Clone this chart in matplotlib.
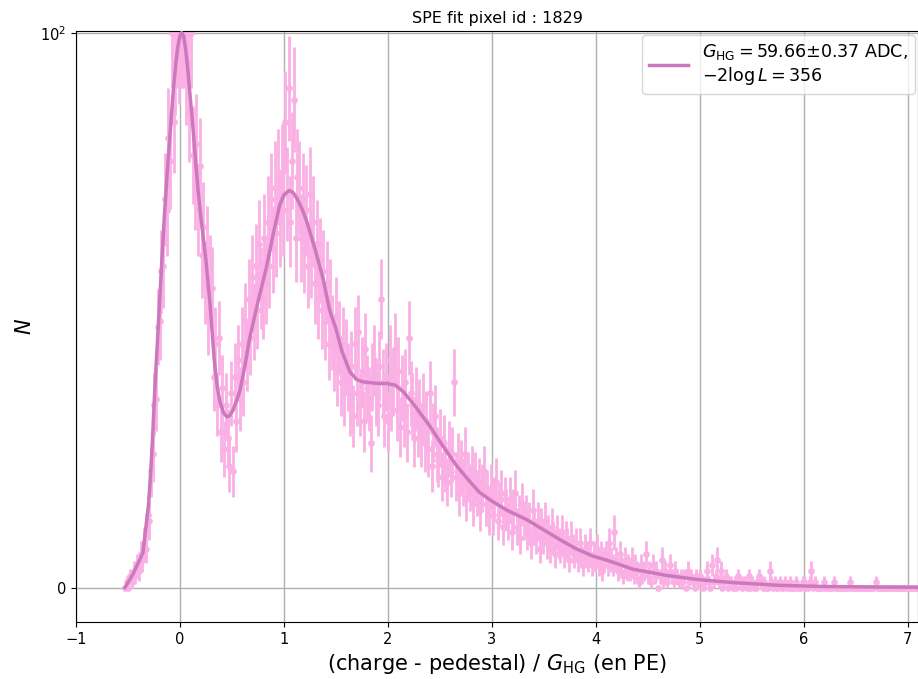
import numpy as np
import matplotlib.pyplot as plt

# histogram (1 ADC bins), bin centres in PE
bin_start = -0.53
bin_width = 1 / 59.66
counts = [
    0, 1, 0, 2, 1, 3, 2, 4, 3, 6,
    5, 8, 7, 13, 12, 21, 24, 33, 34, 47,
    48, 57, 58, 70, 68, 81, 77, 100, 84, 95,
    100, 97, 100, 100, 100, 93, 100, 86, 100, 78,
    73, 80, 68, 76, 60, 65, 55, 61, 49, 56,
    54, 38, 44, 33, 45, 28, 36, 25, 33, 27,
    22, 35, 21, 38, 30, 41, 34, 44, 37, 48,
    42, 52, 45, 56, 48, 58, 50, 62, 54, 52,
    63, 55, 66, 58, 70, 61, 72, 64, 74, 66,
    75, 68, 84, 71, 90, 66, 77, 88, 63, 74,
    72, 63, 70, 61, 68, 58, 71, 60, 66, 55,
    62, 52, 59, 50, 57, 48, 55, 44, 52, 46,
    42, 49, 39, 45, 37, 44, 35, 42, 38, 33,
    40, 31, 44, 35, 46, 33, 39, 30, 43, 36,
    34, 26, 38, 41, 35, 33, 40, 52, 37, 31,
    38, 30, 41, 34, 37, 43, 32, 39, 29, 36,
    31, 37, 28, 45, 35, 33, 27, 34, 29, 32,
    27, 33, 26, 30, 25, 35, 22, 28, 31, 24,
    23, 27, 20, 26, 22, 19, 25, 21, 24, 37,
    20, 23, 17, 22, 19, 24, 16, 20, 18, 21,
    15, 20, 17, 19, 14, 18, 21, 15, 17, 13,
    18, 13, 16, 19, 12, 15, 17, 11, 16, 14,
    12, 16, 10, 14, 17, 11, 13, 9, 15, 12,
    13, 10, 12, 8, 14, 11, 9, 12, 7, 11,
    9, 12, 8, 10, 7, 11, 9, 6, 10, 8,
    7, 10, 6, 9, 8, 5, 9, 7, 6, 8,
    5, 8, 6, 4, 7, 6, 5, 8, 4, 6,
    5, 7, 4, 6, 3, 5, 6, 4, 8, 5,
    4, 10, 5, 3, 6, 4, 2, 5, 3, 4,
    3, 5, 2, 4, 3, 1, 4, 2, 3, 6,
    2, 3, 1, 4, 2, 3, 0, 2, 5, 1,
    3, 1, 2, 4, 2, 1, 3, 2, 1, 2,
    1, 2, 0, 3, 1, 2, 1, 0, 2, 1,
    2, 1, 0, 1, 3, 1, 0, 4, 1, 2,
    5, 1, 3, 0, 1, 2, 0, 1, 1, 0,
    1, 0, 2, 1, 0, 1, 1, 0, 2, 0,
    1, 0, 0, 1, 2, 1, 0, 1, 0, 0,
    3, 1, 0, 1, 0, 0, 1, 0, 0, 1,
    0, 0, 1, 0, 0, 1, 0, 0, 0, 1,
    1, 0, 0, 1, 3, 0, 1, 0, 0, 0,
    0, 1, 0, 0, 0, 0, 0, 1, 0, 0,
    0, 0, 0, 0, 0, 0, 1, 0, 0, 0,
    0, 0, 0, 0, 0, 0, 0, 0, 0, 0,
    0, 1, 0, 0, 0, 0, 0, 0, 0, 0,
    0, 0, 0, 0, 0, 0, 0, 0, 0, 0,
    0, 0, 0, 0, 0, 0, 0, 0,
]

# fitted SPE model
fit_x = [-0.53, -0.49, -0.45, -0.40, -0.356, -0.30, -0.27, -0.24, -0.21, -0.18,
         -0.15, -0.12, -0.10, -0.067, -0.04, -0.02, 0.0, 0.016, 0.035, 0.055,
         0.075, 0.096, 0.12, 0.15, 0.175, 0.2, 0.25, 0.29, 0.33, 0.36,
         0.385, 0.42, 0.45, 0.48, 0.51, 0.55, 0.577, 0.62, 0.67, 0.75,
         0.83, 0.9, 0.96, 1.0, 1.05, 1.09, 1.13, 1.18, 1.22, 1.3,
         1.375, 1.44, 1.5, 1.56, 1.635, 1.7, 1.76, 1.85, 1.92, 1.99,
         2.07, 2.15, 2.25, 2.4, 2.53, 2.66, 2.78, 2.88, 3.0, 3.15,
         3.33, 3.5, 3.65, 3.8, 3.97, 4.13, 4.36, 4.68, 4.98, 5.32,
         5.77, 6.2, 6.7, 7.2]
fit_y = [0.0, 1.2, 2.5, 4.5, 6.3, 15.4, 24.5, 36.5, 46.7, 57.0,
         67.0, 75.5, 80.5, 89.0, 94.5, 97.5, 99.5, 100.2, 99.5, 97.0,
         93.5, 89.0, 84.0, 77.0, 71.5, 67.0, 59.0, 51.0, 41.0, 36.0,
         33.5, 31.5, 30.8, 31.0, 32.0, 34.0, 35.5, 39.5, 44.9, 51.5,
         57.6, 64.0, 69.0, 70.8, 71.6, 71.2, 70.0, 68.0, 66.0, 61.0,
         55.8, 50.0, 46.7, 42.5, 38.9, 37.5, 37.1, 36.9, 36.8, 36.8,
         36.5, 35.3, 33.0, 29.2, 25.5, 22.0, 19.3, 17.2, 15.6, 13.9,
         12.3, 10.4, 8.7, 7.1, 5.7, 4.8, 3.3, 2.2, 1.45, 0.9,
         0.4, 0.2, 0.1, 0.05]

gain = '59.66'
gain_err = '0.37'
likelihood = '356'
pixel_id = 1829

counts = np.array(counts, dtype=float)
bins_x = bin_start + bin_width * np.arange(len(counts))
yerr = np.sqrt(counts)

fig = plt.figure(figsize=(9.18, 6.79), dpi=100)
ax = fig.add_axes([0.0828, 0.084, 0.9172, 0.8703])

ax.errorbar(bins_x, counts, yerr=yerr, fmt='o', color='#fab0e4', ms=3.8,
            elinewidth=2.0, capsize=0, zorder=2)
label = (r'$G_{\mathrm{HG}} = %s{\pm}%s$ ADC,' % (gain, gain_err) + '\n'
         + r'$-2\log L = %s$' % likelihood)
ax.plot(fit_x, fit_y, color='#cc78bc', lw=2.5, label=label, zorder=3)

ax.set_yscale('symlog', linthresh=100)
ax.set_ylim(-6.2, 100.9)
ax.set_xlim(-1, 7.1)
ax.set_xticks(range(-1, 8))
ax.grid(True, color='#b0b0b0', lw=1)
ax.set_axisbelow(True)
ax.tick_params(labelsize=10.5)

ax.set_title('SPE fit pixel id : %d' % pixel_id, fontsize=11.5)
ax.set_xlabel(r'(charge - pedestal) / $G_{\mathrm{HG}}$ (en PE)', fontsize=15)
ax.set_ylabel(r'$N$', fontsize=15)
ax.legend(loc='upper right', fontsize=12.6, handlelength=2.2,
          borderaxespad=0.2)

plt.savefig('out.png', dpi=100)
